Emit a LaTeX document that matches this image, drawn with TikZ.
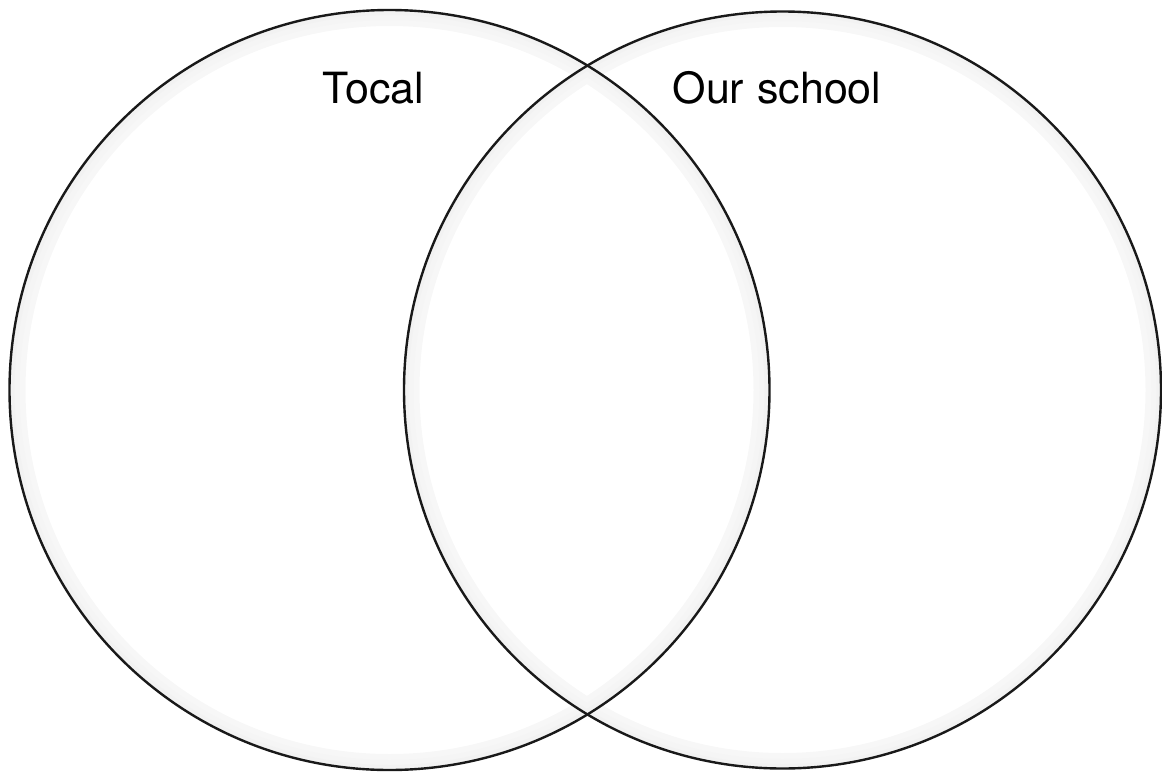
\documentclass[tikz,border=0pt]{standalone}
\usepackage{fontspec}
\setmainfont{TeX Gyre Heros}
\begin{document}
\begin{tikzpicture}[x=1pt,y=-1pt,
  ring/.style={draw=black!90,line width=2.4pt},
  glowA/.style={draw=black!3,line width=14pt},
  glowB/.style={draw=black!4,line width=8pt},
  glowC/.style={draw=black!5,line width=4pt},
  label/.style={anchor=base,inner sep=0pt,font=\fontsize{43}{50}\selectfont}]
\useasboundingbox (0,0) rectangle (1162,774);
% soft inner shadows
\draw[glowA] (389.5,390) circle[radius=371];
\draw[glowA] (782.5,390) circle[radius=370];
\draw[glowB] (389.5,390) circle[radius=374];
\draw[glowB] (782.5,390) circle[radius=373];
\draw[glowC] (389.5,390) circle[radius=377];
\draw[glowC] (782.5,390) circle[radius=376];
% circles
\node[ring,circle,minimum size=760pt,inner sep=0pt] (left) at (389.5,390) {};
\node[ring,circle,minimum size=757pt,inner sep=0pt] (right) at (782.5,390) {};
% labels
\node[label] (tocal) at (373.5,103) {Tocal};
\node[label] (school) at (777,103) {Our\hspace{0.3em}school};
\end{tikzpicture}
\end{document}
